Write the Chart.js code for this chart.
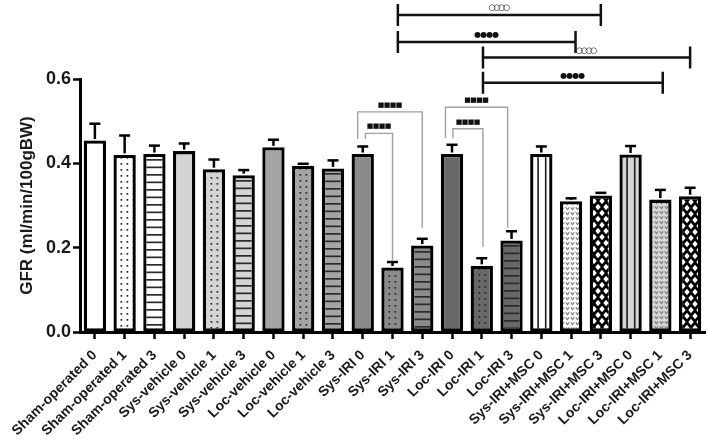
<!DOCTYPE html>
<html><head><meta charset="utf-8">
<script src="https://cdn.jsdelivr.net/npm/chart.js@4.4.1/dist/chart.umd.min.js"></script>
<style>html,body{margin:0;padding:0;background:#fff}#wrap{width:708px;height:443px;position:relative}</style>
</head><body><div id="wrap"><canvas id="c"></canvas></div>
<script>
const categories = ['Sham-operated 0','Sham-operated 1','Sham-operated 3','Sys-vehicle 0','Sys-vehicle 1','Sys-vehicle 3','Loc-vehicle 0','Loc-vehicle 1','Loc-vehicle 3','Sys-IRI 0','Sys-IRI 1','Sys-IRI 3','Loc-IRI 0','Loc-IRI 1','Loc-IRI 3','Sys-IRI+MSC 0','Sys-IRI+MSC 1','Sys-IRI+MSC 3','Loc-IRI+MSC 0','Loc-IRI+MSC 1','Loc-IRI+MSC 3'];
const gfrMeans = [0.454,0.420,0.422,0.429,0.386,0.372,0.438,0.394,0.388,0.422,0.153,0.205,0.422,0.157,0.217,0.422,0.310,0.324,0.421,0.314,0.322];
const gfrErrors = [0.040,0.046,0.020,0.018,0.023,0.012,0.018,0.005,0.019,0.018,0.013,0.016,0.022,0.018,0.022,0.018,0.007,0.006,0.020,0.023,0.020];
const yTicks = [0.0,0.2,0.4,0.6];
// significance: [fromCategory, toCategory, level, marker]
const blackBrackets = [
  [10.18, 17.0, 0.752, '○○○○'],
  [10.18, 16.15, 0.688, '●●●●'],
  [13.04, 20.0, 0.651, '○○○○'],
  [13.04, 19.08, 0.591, '●●●●']
];
// [leftCategory, rightCategory, topLevel, leftEndLevel, rightEndLevel, marker]
const grayBrackets = [
  [8.83, 11.0, 0.522, 0.458, 0.247, '■■■■'],
  [9.09, 10.0, 0.471, 0.458, 0.171, '■■■■'],
  [11.78, 13.87, 0.533, 0.460, 0.247, '■■■■'],
  [12.03, 13.04, 0.482, 0.460, 0.202, '■■■■']
];
const fillColors = ['#ffffff','#ffffff','#ffffff','#d4d4d4','#d4d4d4','#d4d4d4','#a4a4a4','#a4a4a4','#a4a4a4','#8a8a8a','#8a8a8a','#8a8a8a','#686868','#686868','#686868','#ffffff','#ffffff','#000000','#d6d6d6','#d6d6d6','#000000'];
const fillPatterns = ['none','dots','hlines','none','dots','hlines','none','dots','hlines','none','dots','hlines','none','dots','hlines','vlines','waves','diamonds','vlines','waves','diamonds'];

function makeFill(type, bg){
  if (type === 'none') return bg;
  const t = document.createElement('canvas');
  let w = 6, h = 6;
  if (type === 'hlines'){ w = 4; h = 15; }
  if (type === 'vlines'){ w = 40; h = 4; }
  if (type === 'waves'){ w = 5; h = 5; }
  if (type === 'diamonds'){ w = 8; h = 12; }
  t.width = w; t.height = h;
  const c = t.getContext('2d');
  c.fillStyle = bg; c.fillRect(0,0,w,h);
  if (type === 'dots'){ c.fillStyle = '#2a2a2a'; c.fillRect(1.5,2,1.7,1.7); }
  if (type === 'hlines'){ c.fillStyle = '#2a2a2a'; c.fillRect(0,5,w,1.7); c.fillRect(0,12.5,w,1.7); }
  if (type === 'vlines'){ c.fillStyle = '#1a1a1a'; c.fillRect(7.3,0,1.6,h); c.fillRect(14.9,0,1.6,h); }
  if (type === 'waves'){ c.strokeStyle = '#7a7a7a'; c.lineWidth = 1.1; c.beginPath(); c.moveTo(0.8,1.3); c.lineTo(2.5,3.6); c.lineTo(4.2,1.3); c.stroke(); }
  if (type === 'diamonds'){
    c.fillStyle = '#ffffff';
    const pts = [[0,0],[8,0],[0,12],[8,12],[4,6]];
    pts.forEach(([x,y])=>{ c.beginPath(); c.moveTo(x,y-3.2); c.lineTo(x+2.7,y); c.lineTo(x,y+3.2); c.lineTo(x-2.7,y); c.closePath(); c.fill(); });
  }
  return c.createPattern(t,'repeat');
}
const fills = fillPatterns.map((p,i)=>makeFill(p, fillColors[i]));

const FONT = "'Liberation Sans', Arial, sans-serif";
const TXT = '#1a1a1a';

const patternAlign = {
  id:'patternAlign',
  beforeDatasetsDraw(chart){
    chart.getDatasetMeta(0).data.forEach((bar,i)=>{
      const f = fills[i];
      if (f && typeof f === 'object' && f.setTransform){
        f.setTransform(new DOMMatrix().translate(Math.round(bar.x - bar.width/2), Math.round(bar.y)));
      }
    });
  }
};

const errorBars = {
  id:'errorBars',
  afterDatasetsDraw(chart){
    const ctx = chart.ctx, xs = chart.scales.x, ys = chart.scales.y;
    ctx.save();
    ctx.strokeStyle = '#000'; ctx.lineWidth = 2.5; ctx.lineCap = 'butt';
    gfrMeans.forEach((v,i)=>{
      const x = xs.getPixelForValue(i);
      const y0 = ys.getPixelForValue(v), y1 = ys.getPixelForValue(v + gfrErrors[i]);
      ctx.beginPath(); ctx.moveTo(x, y0 - 1.5); ctx.lineTo(x, y1); ctx.stroke();
      ctx.beginPath(); ctx.moveTo(x - 5.5, y1); ctx.lineTo(x + 5.5, y1); ctx.stroke();
    });
    ctx.restore();
  }
};

function drawMarker(ctx, s, cx, cy){
  const ch = Array.from(s);
  let size = 8, step = 6;
  if (ch[0] === '○'){ size = 8.5; step = 4.8; ctx.fillStyle = '#222'; }
  if (ch[0] === '■'){ size = 7; step = 6; }
  ctx.font = size + "px 'DejaVu Sans'";
  ctx.textAlign = 'center'; ctx.textBaseline = 'middle';
  ch.forEach((g,k)=>{ ctx.fillText(g, cx + (k - (ch.length-1)/2)*step, cy); });
}

const brackets = {
  id:'brackets',
  afterDraw(chart){
    const ctx = chart.ctx, xs = chart.scales.x, ys = chart.scales.y;
    ctx.save();
    blackBrackets.forEach(([a,b,lv,m])=>{
      const x1 = xs.getPixelForValue(a), x2 = xs.getPixelForValue(b), y = ys.getPixelForValue(lv);
      ctx.strokeStyle = '#111'; ctx.lineWidth = 2.5;
      ctx.beginPath(); ctx.moveTo(x1,y); ctx.lineTo(x2,y);
      ctx.moveTo(x1,y-11); ctx.lineTo(x1,y+11);
      ctx.moveTo(x2,y-11); ctx.lineTo(x2,y+11); ctx.stroke();
      ctx.fillStyle = '#111';
      drawMarker(ctx, m, (x1+x2)/2, y - 7);
    });
    grayBrackets.forEach(([a,b,top,l,r,m])=>{
      const x1 = xs.getPixelForValue(a), x2 = xs.getPixelForValue(b);
      const yt = ys.getPixelForValue(top), yl = ys.getPixelForValue(l), yr = ys.getPixelForValue(r);
      ctx.strokeStyle = '#a0a0a0'; ctx.lineWidth = 1.4;
      ctx.beginPath(); ctx.moveTo(x1,yl); ctx.lineTo(x1,yt); ctx.lineTo(x2,yt); ctx.lineTo(x2,yr); ctx.stroke();
      ctx.fillStyle = '#111';
      drawMarker(ctx, m, (x1+x2)/2, yt - 7);
    });
    ctx.restore();
  }
};

new Chart(document.getElementById('c'), {
  type:'bar',
  data:{ labels:categories, datasets:[{ data:gfrMeans, backgroundColor:fills, borderColor:'#000', borderWidth:3.3, borderSkipped:false, barPercentage:0.75, categoryPercentage:1 }] },
  options:{
    responsive:true, maintainAspectRatio:false, devicePixelRatio:1, animation:false,
    layout:{ padding:{ top:79, right:3, left:0, bottom:0 } },
    plugins:{ legend:{display:false}, tooltip:{enabled:false} },
    scales:{
      x:{
        offset:true,
        grid:{ drawOnChartArea:false, offset:false, tickLength:7, tickWidth:2.5, tickColor:'#000' },
        border:{ color:'#000', width:3 },
        ticks:{ autoSkip:false, minRotation:45, maxRotation:45, padding:8, color:TXT, font:{ family:FONT, size:14, weight:'bold' } },
        afterFit(s){ s.height = 111; s.paddingLeft = 0; s.paddingRight = 0; }
      },
      y:{
        min:0, max:0.6,
        afterBuildTicks(s){ s.ticks = yTicks.map(v=>({value:v})); },
        ticks:{ callback:v=>Number(v).toFixed(1), padding:2, color:TXT, font:{ family:FONT, size:18, weight:'bold' } },
        grid:{ drawOnChartArea:false, tickLength:7, tickWidth:2.5, tickColor:'#000' },
        border:{ color:'#000', width:3 },
        title:{ display:true, text:'GFR (ml/min/100gBW)', color:TXT, font:{ family:FONT, size:17, weight:'bold' }, padding:{top:17,bottom:0} },
        afterFit(s){ s.width = 80; }
      }
    }
  },
  plugins:[patternAlign, errorBars, brackets]
});
</script></body></html>
